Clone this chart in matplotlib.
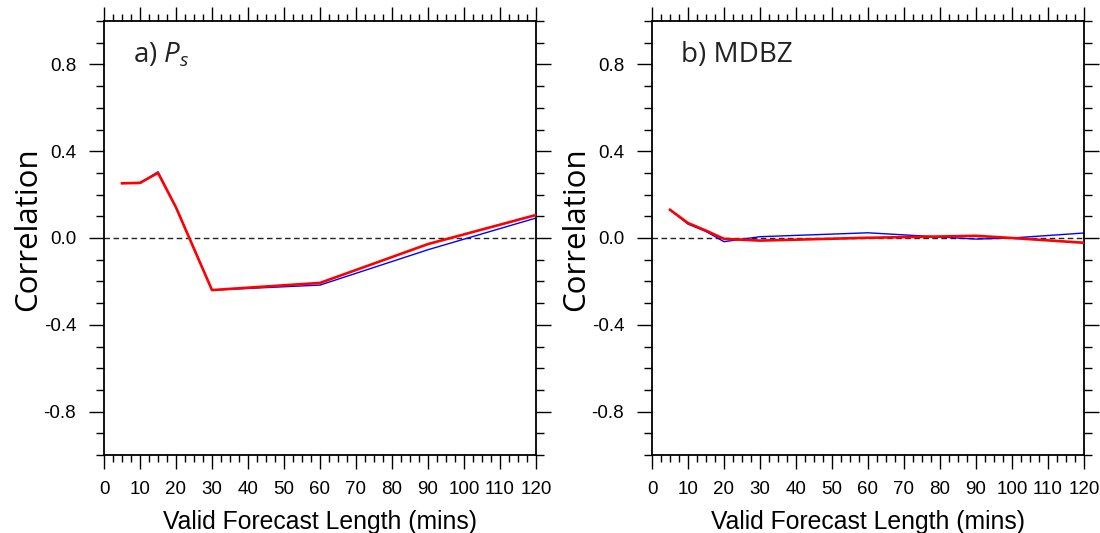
import matplotlib
matplotlib.use("Agg")
import matplotlib.pyplot as plt
from matplotlib.ticker import MultipleLocator, FixedLocator

plt.rcParams["mathtext.fontset"] = "custom"
plt.rcParams["mathtext.rm"] = "Open Sans"
plt.rcParams["mathtext.it"] = "Open Sans:italic"

# Forecast lead times (minutes)
lead_mins = [5, 10, 15, 20, 30, 60, 90, 120]

# Panel a: surface pressure correlation
ps_blue = [0.252, 0.252, 0.305, 0.141, -0.240, -0.217, -0.054, 0.092]
ps_red = [0.252, 0.254, 0.300, 0.141, -0.240, -0.207, -0.028, 0.106]

# Panel b: composite reflectivity correlation
mdbz_lead = [5, 10, 15, 20, 30, 60, 90, 100, 120]
mdbz_blue = [0.130, 0.064, 0.030, -0.017, 0.006, 0.024, -0.005, 0.000, 0.023]
mdbz_red = [0.130, 0.069, 0.034, -0.004, -0.012, 0.001, 0.010, 0.000, -0.022]

panel_titles = [r"a) $\mathit{P}_{s}$", "b) MDBZ"]
y_ticks = [-0.8, -0.4, 0.0, 0.4, 0.8]
y_ticklabels = ["-0.8", "-0.4", "0.0", "0.4", "0.8"]
x_ticks = list(range(0, 121, 10))

fig = plt.figure(figsize=(11, 5.33), dpi=100)
W, H = 1100, 533
axes_px = [(104, 536), (652, 1084)]
top_px, bot_px = 21, 455

panels = [
    (lead_mins, ps_blue, lead_mins, ps_red),
    (mdbz_lead, mdbz_blue, mdbz_lead, mdbz_red),
]

for (l, r), title, (xb, yb, xr, yr) in zip(axes_px, panel_titles, panels):
    ax = fig.add_axes([l / W, 1 - bot_px / H, (r - l) / W, (bot_px - top_px) / H])
    ax.axhline(0, color="#222222", lw=1.0, ls=(0, (4, 2.5)), zorder=1)
    ax.plot(xb, yb, color="#0000ff", lw=1.0, zorder=2)
    ax.plot(xr, yr, color="#ff0000", lw=1.9, zorder=3)
    ax.set_xlim(0, 120)
    ax.set_ylim(-1.0, 1.0)

    ax.xaxis.set_major_locator(FixedLocator(x_ticks))
    ax.xaxis.set_minor_locator(MultipleLocator(2.5))
    ax.yaxis.set_major_locator(FixedLocator(y_ticks))
    ax.yaxis.set_minor_locator(MultipleLocator(0.1))
    ax.set_yticklabels(y_ticklabels)
    ax.set_xticklabels([str(v) for v in x_ticks])

    ax.tick_params(which="both", direction="out", top=True, right=True,
                   width=1.0, colors="black")
    ax.tick_params(which="major", length=10, pad=9, labelsize=13.5)
    ax.tick_params(which="minor", length=5)
    ax.tick_params(axis="y", which="major", length=11)
    ax.tick_params(axis="y", which="minor", length=6)
    for lab in ax.get_xticklabels() + ax.get_yticklabels():
        lab.set_fontfamily("Liberation Sans")
    for s in ax.spines.values():
        s.set_linewidth(1.3)

    ax.set_xlabel("Valid Forecast Length (mins)", fontsize=17.8,
                  fontfamily="Liberation Sans", labelpad=8)
    ax.set_ylabel("Correlation", fontsize=22.5, fontfamily="Open Sans")
    ax.yaxis.set_label_coords(-0.14, 0.52)
    ax.text(0.066, 0.955, title, transform=ax.transAxes, fontsize=20,
            fontfamily="Open Sans", color="#222222", va="top", ha="left")

fig.savefig("out.png", dpi=100)
